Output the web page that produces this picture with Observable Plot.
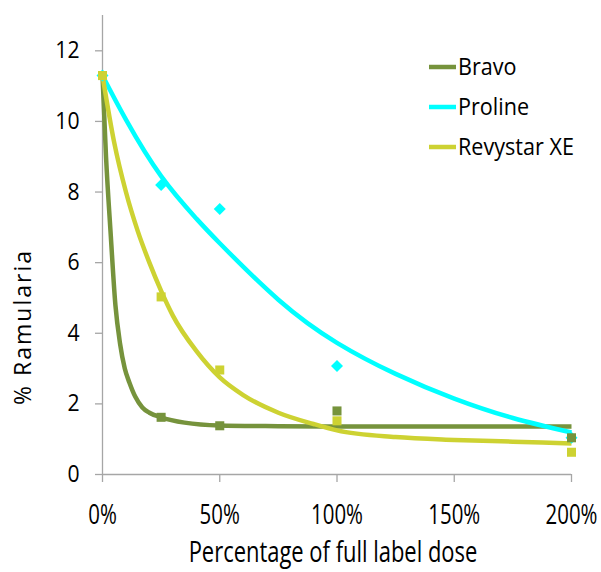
<!DOCTYPE html>
<html>
<head>
<meta charset="utf-8">
<script src="https://cdn.jsdelivr.net/npm/d3@7"></script>
<script src="https://cdn.jsdelivr.net/npm/@observablehq/plot@0.6"></script>
<style>
  html, body { margin: 0; padding: 0; background: #fff; }
  #chart { position: relative; width: 601px; height: 572px; }
</style>
</head>
<body>
<div id="chart"></div>
<script>
// ---- Data ----
const seriesNames = ["Bravo", "Proline", "Revystar XE"];
const seriesColors = ["#76933C", "#00FFFF", "#CDD232"];

const pointDose = [0, 25, 50, 100, 200];
const bravoPts = [11.3, 1.62, 1.38, 1.80, 1.04];
const prolinePts = [11.3, 8.2, 7.52, 3.07, 1.04];
const revystarPts = [11.3, 5.03, 2.96, 1.52, 0.63];

const bravoCurveDose = [0, 1.5, 3.5, 5.5, 7.5, 9.5, 11.5, 14, 17, 20, 25, 35, 50, 75, 100, 150, 200];
const bravoCurveVal = [11.3, 9.0, 6.8, 4.8, 3.7, 3.0, 2.6, 2.2, 1.9, 1.75, 1.62, 1.47, 1.39, 1.37, 1.36, 1.36, 1.36];

const prolineCurveDose = [0, 10, 25, 40, 50, 75, 100, 125, 150, 175, 200];
const prolineCurveVal = [11.3, 10.05, 8.45, 7.25, 6.55, 4.95, 3.73, 2.85, 2.15, 1.6, 1.19];

const revystarCurveDose = [0, 5, 10, 15, 20, 25, 30, 40, 50, 60, 75, 90, 100, 125, 150, 175, 200];
const revystarCurveVal = [11.3, 9.4, 8.0, 6.9, 6.0, 5.2, 4.5, 3.5, 2.75, 2.25, 1.75, 1.43, 1.25, 1.06, 0.98, 0.93, 0.88];

const xTicks = [0, 50, 100, 150, 200];
const yTicks = [0, 2, 4, 6, 8, 10, 12];
const xTitle = "Percentage of full label dose";
const yTitle = "% Ramularia";

// ---- Build tables ----
const pts = (arr, s) => pointDose.map((d, i) => ({dose: d, value: arr[i], series: s}));
const crv = (ds, vs, s) => ds.map((d, i) => ({dose: d, value: vs[i], series: s}));
const bravoP = pts(bravoPts, seriesNames[0]);
const prolineP = pts(prolinePts, seriesNames[1]);
const revyP = pts(revystarPts, seriesNames[2]);
const bravoC = crv(bravoCurveDose, bravoCurveVal, seriesNames[0]);
const prolineC = crv(prolineCurveDose, prolineCurveVal, seriesNames[1]);
const revyC = crv(revystarCurveDose, revystarCurveVal, seriesNames[2]);

const axisGray = "#A6A6A6";
const font = '"Open Sans", sans-serif';

const chart = Plot.plot({
  width: 601,
  height: 572,
  marginLeft: 102,
  marginRight: 30,
  marginTop: 15,
  marginBottom: 98,
  style: {fontFamily: font, fontSize: "24px", color: "#000", background: "#fff", overflow: "visible"},
  x: {domain: [0, 200]},
  y: {domain: [0, 13]},
  marks: [
    Plot.axisX({ticks: xTicks, tickFormat: d => d + "%", tickSize: 8, tickPadding: 22, stroke: axisGray, fill: "#000", strokeWidth: 1.3, fontSize: 28, label: null}),
    Plot.axisY({ticks: yTicks, tickSize: 7, tickPadding: 16, stroke: axisGray, fill: "#000", strokeWidth: 1.3, fontSize: 23.5, label: null}),
    Plot.ruleX([0], {stroke: axisGray, strokeWidth: 1.3}),
    Plot.ruleY([0], {stroke: axisGray, strokeWidth: 1.3}),
    Plot.line(bravoC, {x: "dose", y: "value", stroke: seriesColors[0], strokeWidth: 4.5, curve: "monotone-x", strokeLinecap: "butt"}),
    Plot.line(prolineC, {x: "dose", y: "value", stroke: seriesColors[1], strokeWidth: 4.5, curve: "natural", strokeLinecap: "butt"}),
    Plot.line(revyC, {x: "dose", y: "value", stroke: seriesColors[2], strokeWidth: 4.5, curve: "monotone-x", strokeLinecap: "butt"}),
    Plot.dot(prolineP, {x: "dose", y: "value", symbol: "diamond2", r: 5.4, fill: seriesColors[1], stroke: "none"}),
    Plot.dot(bravoP, {x: "dose", y: "value", symbol: "square", r: 5.1, fill: seriesColors[0], stroke: "none"}),
    Plot.dot(revyP, {x: "dose", y: "value", symbol: "square", r: 5.1, fill: seriesColors[2], stroke: "none"})
  ]
});

document.getElementById("chart").appendChild(chart);

// condense text horizontally (about its anchor) to mimic the narrow look of the reference
function condense(nodes, factor) {
  nodes.forEach(node => {
    const t = node.getAttribute("transform");
    if (t) {
      node.setAttribute("transform", t + ` scale(${factor},1)`);
    } else {
      const x = +(node.getAttribute("x") || 0);
      node.setAttribute("transform", `translate(${x},0) scale(${factor},1) translate(${-x},0)`);
    }
  });
}

const svg = d3.select(chart);
condense(svg.selectAll('g[aria-label="x-axis tick label"] text').nodes(), 0.73);
condense(svg.selectAll('g[aria-label="y-axis tick label"] text').nodes(), 0.9);

// ---- Titles and legend (real SVG text) ----
const xt = svg.append("text")
  .attr("x", 333).attr("y", 562)
  .attr("text-anchor", "middle")
  .attr("font-family", font)
  .attr("font-size", 28.5)
  .attr("fill", "#000")
  .text(xTitle);
condense([xt.node()], 0.77);

svg.append("text")
  .attr("transform", "translate(31,327) rotate(-90)")
  .attr("text-anchor", "middle")
  .attr("font-family", font)
  .attr("font-size", 23)
  .attr("letter-spacing", "2px")
  .attr("fill", "#000")
  .text(yTitle);

const legend = svg.append("g");
seriesNames.forEach((name, i) => {
  const cy = 67 + 40 * i;
  legend.append("line")
    .attr("x1", 429).attr("x2", 456)
    .attr("y1", cy).attr("y2", cy)
    .attr("stroke", seriesColors[i])
    .attr("stroke-width", 4.5);
  const t = legend.append("text")
    .attr("x", 458).attr("y", cy + 8.5)
    .attr("text-anchor", "start")
    .attr("font-family", font)
    .attr("font-size", 23.5)
    .attr("fill", "#000")
    .text(name);
  condense([t.node()], 0.92);
});
</script>
</body>
</html>
